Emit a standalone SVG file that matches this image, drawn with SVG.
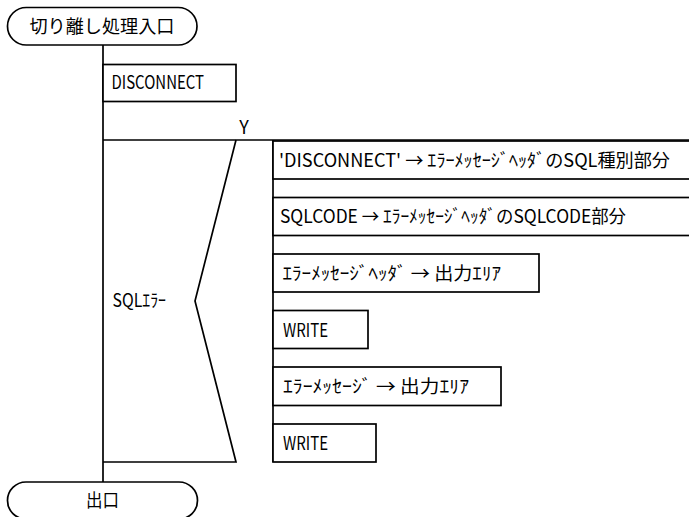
<svg xmlns="http://www.w3.org/2000/svg" width="689" height="517" viewBox="0 0 689 517">
<style>
.s{fill:none;stroke:#000;stroke-width:1.7}
.b{fill:#fff;stroke:#000;stroke-width:1.7}
text{font-family:"Noto Sans CJK JP","Liberation Sans",sans-serif;font-size:18px;fill:#000}
</style>
<rect width="689" height="517" fill="#fff"/>
<g id="connectors">
<path class="s" d="M103,45 V482"/>
<path class="s" d="M103,140 H690"/>
<path class="s" d="M103,462 H236 L195,301 L236,140"/>
<path class="s" d="M273,140 V462"/>
</g>
<g id="start">
<rect class="b" x="7.5" y="7.5" width="189.5" height="37.5" rx="18.75"/>
<text x="102" y="32.5" text-anchor="middle" textLength="145" lengthAdjust="spacingAndGlyphs">切り離し処理入口</text>
</g>
<g id="disconnect">
<rect class="b" x="103" y="64.5" width="133" height="37"/>
<text x="111.5" y="89" textLength="92.5" lengthAdjust="spacingAndGlyphs">DISCONNECT</text>
</g>
<g id="branch-y">
<text x="244" y="133.5" text-anchor="middle">Y</text>
</g>
<g id="sqlerror">
<text x="112.5" y="306.5" textLength="53.5" lengthAdjust="spacingAndGlyphs">SQLｴﾗｰ</text>
</g>
<g id="box1">
<rect class="b" x="273" y="141" width="420" height="38"/>
<text x="279" y="166.5" textLength="391" lengthAdjust="spacingAndGlyphs">'DISCONNECT' → ｴﾗｰﾒｯｾｰｼﾞﾍｯﾀﾞのSQL種別部分</text>
</g>
<g id="box2">
<rect class="b" x="273" y="197.5" width="420" height="38"/>
<text x="280" y="223" textLength="346" lengthAdjust="spacingAndGlyphs">SQLCODE → ｴﾗｰﾒｯｾｰｼﾞﾍｯﾀﾞのSQLCODE部分</text>
</g>
<g id="box3">
<rect class="b" x="273" y="254" width="266" height="38"/>
<text x="282.5" y="279.5" textLength="218.5" lengthAdjust="spacingAndGlyphs">ｴﾗｰﾒｯｾｰｼﾞﾍｯﾀﾞ → 出力ｴﾘｱ</text>
</g>
<g id="write1">
<rect class="b" x="273" y="310.5" width="95" height="38"/>
<text x="283" y="336.5" textLength="45" lengthAdjust="spacingAndGlyphs">WRITE</text>
</g>
<g id="box5">
<rect class="b" x="273" y="367" width="228" height="38.5"/>
<text x="283" y="393" textLength="186" lengthAdjust="spacingAndGlyphs">ｴﾗｰﾒｯｾｰｼﾞ → 出力ｴﾘｱ</text>
</g>
<g id="write2">
<rect class="b" x="273" y="424" width="103" height="38"/>
<text x="283" y="449.5" textLength="45" lengthAdjust="spacingAndGlyphs">WRITE</text>
</g>
<g id="end">
<rect class="b" x="7.5" y="482" width="190" height="37" rx="18.5"/>
<text x="102.5" y="506.5" text-anchor="middle" textLength="33" lengthAdjust="spacingAndGlyphs">出口</text>
</g>
</svg>
